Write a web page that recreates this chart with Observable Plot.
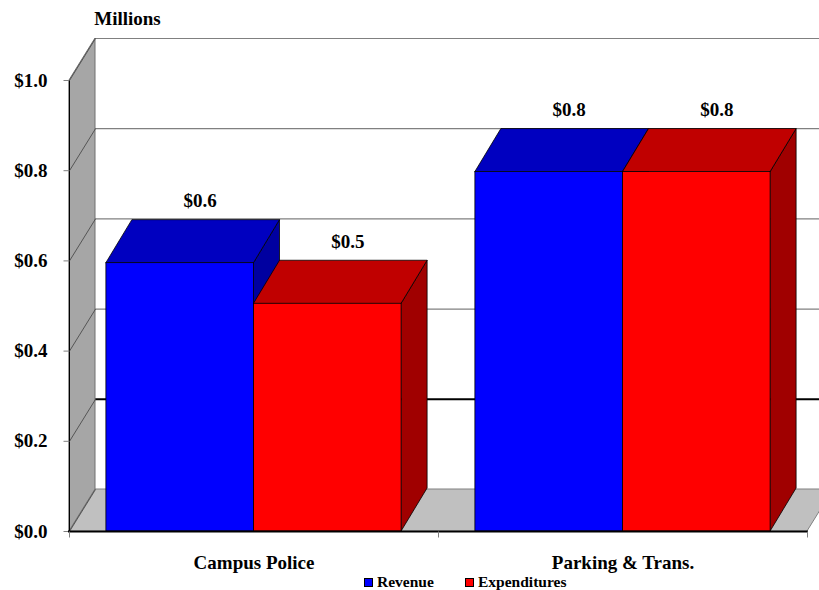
<!DOCTYPE html>
<html>
<head>
<meta charset="utf-8">
<script src="https://cdn.jsdelivr.net/npm/d3@7"></script>
<script src="https://cdn.jsdelivr.net/npm/@observablehq/plot@0.6"></script>
<style>
  html, body { margin: 0; padding: 0; background: #fff; overflow: hidden; }
  #wrap { position: relative; width: 819px; height: 590px; }
  .leg { position: absolute; top: 574px; height: 16px; display: flex; align-items: center;
         font-family: 'Liberation Serif', 'Times New Roman', serif; font-weight: bold; font-size: 15.5px; color: #000; }
  .sw { width: 9px; height: 9px; box-sizing: border-box; border: 1px solid #000; margin-right: 4px; }
</style>
</head>
<body>
<div id="wrap"></div>
<script>
// ---- data ----
const categories = ["Campus Police", "Parking & Trans."];
const series = ["Revenue", "Expenditures"];
const revenue = [0.595, 0.797];
const expenditures = [0.505, 0.797];
const yTicks = [0, 0.2, 0.4, 0.6, 0.8, 1.0];
const frontColors = ["#0000FF", "#FF0000"];
const topColors = ["#0000C0", "#C00000"];
const sideColors = ["#0000A0", "#A00000"];

// ---- geometry ----
const W = 819, H = 590, mL = 69, mR = 12, mT = 80, mB = 59;
const pxX = (W - mL - mR) / categories.length;   // pixels per category unit
const pxY = H - mT - mB;                          // pixels per 1.0 (millions)
const DXw = 26 / pxX, DYw = 42 / pxY;             // wall depth
const DXb = 26 / pxX, DYb = 43 / pxY;             // bar depth
const values = [revenue, expenditures];

const bars = categories.flatMap((c, i) => series.map((s, j) => ({
  id: i * 2 + j, cat: c, series: s,
  x1: i + 0.1 + 0.4 * j, x2: i + 0.5 + 0.4 * j,
  v: values[j][i], front: frontColors[j], top: topColors[j], side: sideColors[j]
})));

const topPts = bars.flatMap(b => [
  {id: b.id, fill: b.top, y: b.v, x1: b.x1, x2: b.x2},
  {id: b.id, fill: b.top, y: b.v + DYb, x1: b.x1 + DXb, x2: b.x2 + DXb}
]);
const sidePts = bars.flatMap(b => [
  {id: b.id, fill: b.side, x: b.x2, y1: 0, y2: b.v},
  {id: b.id, fill: b.side, x: b.x2 + DXb, y1: DYb, y2: b.v + DYb}
]);
const n = categories.length;
const floorPts = [{y: 0, x1: 0, x2: n}, {y: DYw, x1: DXw, x2: n + DXw}];
const wallPts = [{x: 0, y1: 0, y2: 1}, {x: DXw, y1: DYw, y2: 1 + DYw}];

const font = {fontFamily: "'Liberation Serif', 'Times New Roman', serif", fontWeight: "bold", fill: "black"};

const chart = Plot.plot({
  width: W, height: H,
  marginLeft: mL, marginRight: mR, marginTop: mT, marginBottom: mB,
  x: {domain: [0, n], axis: null},
  y: {domain: [0, 1], axis: null},
  style: {background: "white", fontFamily: "'Liberation Serif', serif"},
  marks: [
    // back wall gridlines
    Plot.ruleY(yTicks.slice(1), {y: t => t + DYw, x1: DXw, x2: n + DXw,
      stroke: t => t === 0.2 ? "#000000" : "#808080", strokeWidth: t => t === 0.2 ? 2 : 1.2}),
    // floor
    Plot.areaX(floorPts, {y: "y", x1: "x1", x2: "x2", fill: "#C0C0C0", stroke: "#808080", strokeWidth: 1}),
    // left wall
    Plot.areaY(wallPts, {x: "x", y1: "y1", y2: "y2", fill: "#A6A6A6", stroke: "#707070", strokeWidth: 1}),
    Plot.link(yTicks, {x1: 0, y1: t => t, x2: DXw, y2: t => t + DYw, stroke: "#404040", strokeWidth: 0.8}),
    Plot.ruleX([0], {y1: 0, y2: 1, stroke: "#000", strokeWidth: 1}),
    // bars: sides, tops, fronts
    Plot.areaY(sidePts, {x: "x", y1: "y1", y2: "y2", z: "id", fill: "fill", stroke: "#000", strokeWidth: 0.8}),
    Plot.areaX(topPts, {y: "y", x1: "x1", x2: "x2", z: "id", fill: "fill", stroke: "#000", strokeWidth: 0.8}),
    Plot.rect(bars, {x1: "x1", x2: "x2", y1: 0, y2: "v", fill: "front", stroke: "#000", strokeWidth: 0.8}),
    // y axis ticks + labels
    Plot.link(yTicks, {x1: -6 / pxX, x2: 0, y1: t => t, y2: t => t, stroke: "#808080"}),
    Plot.text(yTicks, {x: 0, y: t => t, text: t => "$" + t.toFixed(1), dx: -22, textAnchor: "end", fontSize: 19, ...font}),
    // x axis line + ticks
    Plot.ruleY([0], {x1: -1 / pxX, x2: n + 1 / pxX, stroke: "#000", strokeWidth: 2}),
    Plot.link(d3.range(n + 1), {x1: d => d, x2: d => d, y1: 0, y2: -6 / pxY, stroke: "#808080"}),
    // category labels
    Plot.text(categories, {x: (d, i) => i + 0.5, y: 0, text: d => d, dy: 31, fontSize: 19, ...font}),
    // value labels
    Plot.text(bars, {x: b => (b.x1 + b.x2) / 2, y: "v", text: b => "$" + b.v.toFixed(1), dx: 20, dy: -62, fontSize: 19, ...font}),
    // units title
    Plot.text(["Millions"], {frameAnchor: "top-left", dx: 58, dy: -62, textAnchor: "middle", lineAnchor: "middle", text: d => d, fontSize: 19, ...font})
  ]
});

const wrap = document.getElementById("wrap");
wrap.appendChild(chart);

// legend
const legLeft = [364, 465];
series.forEach((s, j) => {
  const item = document.createElement("div");
  item.className = "leg";
  item.style.left = legLeft[j] + "px";
  const sw = document.createElement("span");
  sw.className = "sw";
  sw.style.background = frontColors[j];
  const label = document.createElement("span");
  label.textContent = s;
  item.appendChild(sw);
  item.appendChild(label);
  wrap.appendChild(item);
});
</script>
</body>
</html>
